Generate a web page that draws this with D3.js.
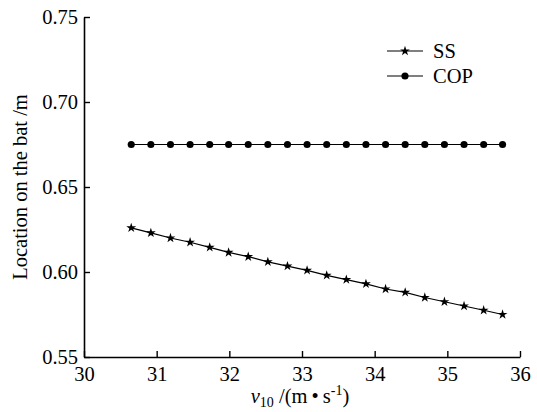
<!DOCTYPE html>
<html>
<head>
<meta charset="utf-8">
<script src="https://cdn.jsdelivr.net/npm/d3@7"></script>
<style>
  html, body { margin: 0; padding: 0; background: #fff; }
  svg text { font-family: "Times New Roman", "Liberation Serif", Tinos, "DejaVu Serif", serif !important; }
</style>
</head>
<body>
<svg id="chart" width="537" height="412"></svg>
<script>
// Impact speed v10 (m/s)
const speeds = [30.65, 30.92, 31.19, 31.46, 31.73, 31.99, 32.26, 32.53, 32.80, 33.07,
                33.34, 33.61, 33.88, 34.15, 34.42, 34.69, 34.96, 35.23, 35.50, 35.76];
// Sweet spot location along the bat (m)
const ssValues = [0.626, 0.623, 0.620, 0.6175, 0.6145, 0.6115, 0.609, 0.606, 0.6035, 0.601,
                  0.598, 0.5955, 0.593, 0.590, 0.588, 0.585, 0.5825, 0.580, 0.5775, 0.575];
// Centre of percussion location (m)
const copValues = [0.675, 0.675, 0.675, 0.675, 0.675, 0.675, 0.675, 0.675, 0.675, 0.675,
                   0.675, 0.675, 0.675, 0.675, 0.675, 0.675, 0.675, 0.675, 0.675, 0.675];
const xTicks = [30, 31, 32, 33, 34, 35, 36];
const yTicks = [0.55, 0.60, 0.65, 0.70, 0.75];
const seriesNames = ["SS", "COP"];

const svg = d3.select("#chart");
const margin = { left: 84, right: 17, top: 17, bottom: 55 };
const W = 537, H = 412;

const x = d3.scaleLinear().domain([30, 36]).range([margin.left, W - margin.right]);
const y = d3.scaleLinear().domain([0.55, 0.75]).range([H - margin.bottom, margin.top]);

const fontSize = 20.5;

// Axes with inward ticks
const xAxis = d3.axisBottom(x).tickValues(xTicks).tickFormat(d3.format("d"))
  .tickSizeInner(-6).tickSizeOuter(0).tickPadding(9);
const yAxis = d3.axisLeft(y).tickValues(yTicks).tickFormat(d3.format(".2f"))
  .tickSizeInner(-6).tickSizeOuter(0).tickPadding(6);

const gx = svg.append("g").attr("transform", `translate(0,${y(0.55)})`).call(xAxis);
const gy = svg.append("g").attr("transform", `translate(${x(30)},0)`).call(yAxis);

[gx, gy].forEach(g => {
  g.attr("font-family", null).attr("font-size", null);
  g.selectAll("path.domain").attr("stroke", "#000").attr("stroke-width", 1.6);
  g.selectAll(".tick line").attr("stroke", "#000").attr("stroke-width", 1.4);
  g.selectAll(".tick text")
    .attr("fill", "#000")
    .style("font-size", fontSize + "px");
});

// Series
const ssData = speeds.map((v, i) => ({ x: v, y: ssValues[i] }));
const copData = speeds.map((v, i) => ({ x: v, y: copValues[i] }));

const line = d3.line().x(d => x(d.x)).y(d => y(d.y));

const starSym = d3.symbol().type(d3.symbolStar).size(30);
const circleSym = d3.symbol().type(d3.symbolCircle).size(40);

function drawSeries(data, sym) {
  svg.append("path").datum(data)
    .attr("d", line)
    .attr("fill", "none")
    .attr("stroke", "#000")
    .attr("stroke-width", 1.2);
  svg.append("g").selectAll("path").data(data).join("path")
    .attr("transform", d => `translate(${x(d.x)},${y(d.y)})`)
    .attr("d", sym)
    .attr("fill", "#000");
}
drawSeries(ssData, starSym);
drawSeries(copData, circleSym);

// Legend
const legend = svg.append("g").attr("transform", "translate(387,51)");
const legendSyms = [starSym, circleSym];
seriesNames.forEach((name, i) => {
  const g = legend.append("g").attr("transform", `translate(0,${i * 25})`);
  g.append("line").attr("x1", 0).attr("x2", 36).attr("y1", 0).attr("y2", 0)
    .attr("stroke", "#000").attr("stroke-width", 1.2);
  g.append("path").attr("transform", "translate(18,0)")
    .attr("d", legendSyms[i]).attr("fill", "#000");
  g.append("text").attr("x", 46).attr("y", 7)
    .style("font-size", fontSize + "px").attr("fill", "#000")
    .text(name);
});

// Y axis title
svg.append("text")
  .attr("transform", `translate(27,${(y(0.55) + y(0.75)) / 2}) rotate(-90)`)
  .attr("text-anchor", "middle")
  .style("font-size", fontSize + "px")
  .attr("fill", "#000")
  .text("Location on the bat /m");

// X axis title: v10 /(m·s^-1)
const xt = svg.append("text")
  .attr("x", 300).attr("y", 402.5)
  .attr("text-anchor", "middle")
  .style("font-size", fontSize + "px")
  .attr("fill", "#000");
xt.append("tspan").style("font-style", "italic").text("v");
xt.append("tspan").attr("dy", 4).style("font-size", "14px").text("10");
xt.append("tspan").attr("dy", -4).text(" /(m\u2009\u2022\u2009s");
xt.append("tspan").attr("dy", -8).style("font-size", "14px").text("-1");
xt.append("tspan").attr("dy", 8).text(")");
</script>
</body>
</html>
